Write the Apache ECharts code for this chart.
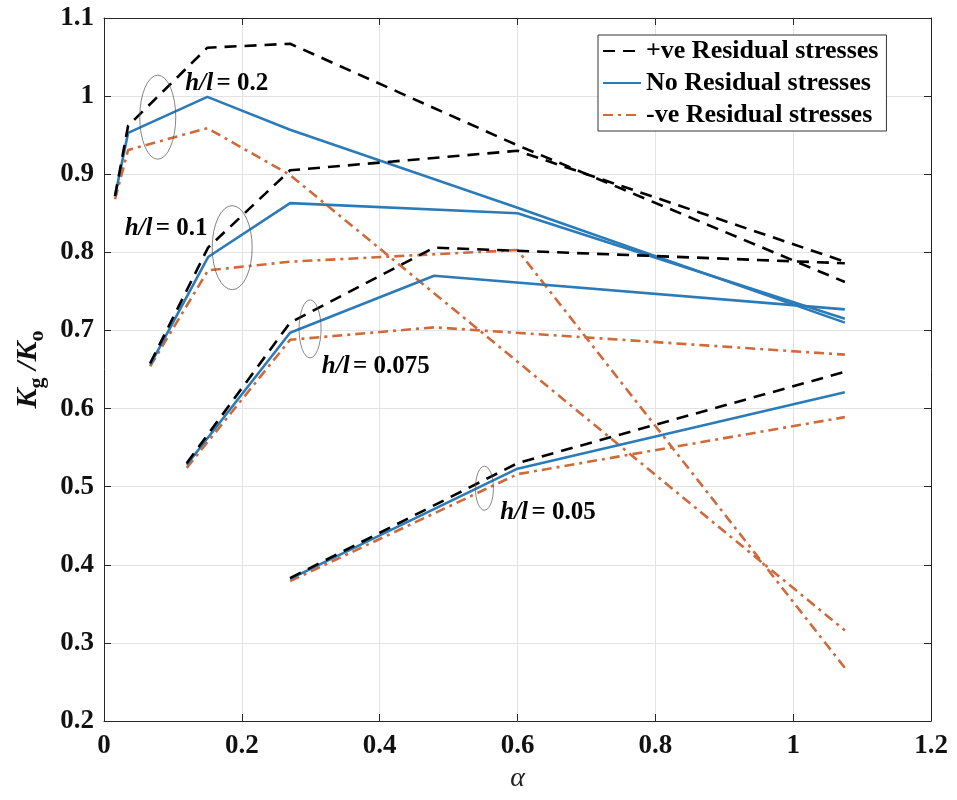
<!DOCTYPE html>
<html>
<head>
<meta charset="utf-8">
<script src="https://cdn.jsdelivr.net/npm/echarts@6/dist/echarts.min.js"></script>
<style>html,body{margin:0;padding:0;background:#fff}#c{width:957px;height:800px}</style>
</head>
<body>
<div id="c"></div>
<script>
// ---- data (alpha, Kg/Ko) ----
const seriesNames = ['+ve Residual stresses', 'No Residual stresses', '-ve Residual stresses'];
const xTickLabels = ['0', '0.2', '0.4', '0.6', '0.8', '1', '1.2'];
const yTickLabels = ['0.2', '0.3', '0.4', '0.5', '0.6', '0.7', '0.8', '0.9', '1', '1.1'];

// h/l = 0.2
const pos_02 = [[0.016, 0.872], [0.035, 0.962], [0.15, 1.062], [0.27, 1.067], [0.6, 0.937], [1.075, 0.762]];
const none_02 = [[0.016, 0.872], [0.035, 0.953], [0.15, 0.999], [0.27, 0.957], [0.6, 0.857], [1.075, 0.710]];
const neg_02 = [[0.016, 0.868], [0.035, 0.931], [0.15, 0.959], [0.27, 0.899], [0.6, 0.660], [1.075, 0.316]];
// h/l = 0.1
const pos_01 = [[0.067, 0.658], [0.151, 0.806], [0.27, 0.905], [0.6, 0.930], [1.075, 0.788]];
const none_01 = [[0.067, 0.656], [0.151, 0.794], [0.27, 0.863], [0.6, 0.850], [1.075, 0.715]];
const neg_01 = [[0.067, 0.654], [0.151, 0.777], [0.27, 0.788], [0.6, 0.803], [1.075, 0.268]];
// h/l = 0.075
const pos_0075 = [[0.12, 0.530], [0.27, 0.710], [0.479, 0.806], [1.075, 0.786]];
const none_0075 = [[0.12, 0.528], [0.27, 0.697], [0.479, 0.770], [1.075, 0.727]];
const neg_0075 = [[0.12, 0.524], [0.27, 0.688], [0.479, 0.704], [1.075, 0.669]];
// h/l = 0.05
const pos_005 = [[0.27, 0.383], [0.6, 0.530], [1.075, 0.647]];
const none_005 = [[0.27, 0.382], [0.6, 0.523], [1.075, 0.621]];
const neg_005 = [[0.27, 0.379], [0.6, 0.516], [1.075, 0.589]];

// annotations: label text, label anchor (data), ellipse centre (data), ellipse radii (px)
const annLabels = ['0.2', '0.1', '0.075', '0.05'];
const annTextPos = [[0.118, 1.016], [0.030, 0.831], [0.316, 0.654], [0.575, 0.467]];
const annEllipse = [[0.078, 0.973], [0.186, 0.806], [0.299, 0.702], [0.552, 0.498]];
const annRadii = [[18, 42], [20, 42], [11, 29], [9, 22]];

const FONT = 'Liberation Serif';
const styles = [
  { color: '#000000', type: [12, 8] },
  { color: '#2B7BB9', type: 'solid' },
  { color: '#D06A3A', type: [10, 5, 3, 5] }
];
const groups = [
  [pos_02, none_02, neg_02],
  [pos_01, none_01, neg_01],
  [pos_0075, none_0075, neg_0075],
  [pos_005, none_005, neg_005]
];

const series = [];
groups.forEach(g => {
  g.forEach((d, k) => {
    series.push({
      name: seriesNames[k],
      type: 'line',
      data: d,
      symbol: 'none',
      showSymbol: false,
      smooth: false,
      silent: true,
      z: 5 - k,
      lineStyle: { color: styles[k].color, type: styles[k].type, width: 2.6 },
      itemStyle: { color: styles[k].color }
    });
  });
});

const axisCommon = {
  type: 'value',
  axisLine: { show: true, onZero: false, lineStyle: { color: '#262626', width: 1 } },
  axisTick: { show: true, inside: true, length: 7, lineStyle: { color: '#262626' } }
};

const chart = echarts.init(document.getElementById('c'), null, { renderer: 'canvas' });
chart.setOption({
  animation: false,
  backgroundColor: '#fff',
  grid: { left: 104, right: 26, top: 18, bottom: 79, containLabel: false, outerBoundsMode: 'none' },
  legend: {
    data: seriesNames,
    orient: 'vertical',
    left: 598,
    top: 35,
    itemWidth: 38,
    itemHeight: 14,
    itemGap: 6,
    padding: [3, 8, 3, 4],
    borderColor: '#333',
    borderWidth: 1,
    backgroundColor: '#fff',
    itemStyle: { opacity: 0 },
    textStyle: { fontFamily: FONT, fontWeight: 'bold', fontSize: 26, color: '#000' },
    selectedMode: false
  },
  xAxis: [
    Object.assign({}, axisCommon, {
      min: 0, max: 1.2, interval: 0.2, position: 'bottom',
      name: 'α', nameLocation: 'middle', nameGap: 42,
      nameTextStyle: { fontFamily: FONT, fontStyle: 'italic', fontSize: 28, color: '#222' },
      axisLabel: {
        margin: 12, fontFamily: FONT, fontWeight: 'bold', fontSize: 27, color: '#111',
        formatter: v => xTickLabels[Math.round(v / 0.2)]
      },
      splitLine: { show: true, lineStyle: { color: '#e3e3e3', width: 1 } }
    }),
    Object.assign({}, axisCommon, {
      min: 0, max: 1.2, interval: 0.2, position: 'top',
      axisLabel: { show: false }, splitLine: { show: false }
    })
  ],
  yAxis: [
    Object.assign({}, axisCommon, {
      min: 0.2, max: 1.1, interval: 0.1, position: 'left',
      name: '{k|K}{s|g}{k| /K}{s|o}', nameLocation: 'middle', nameGap: 56, nameRotate: 90,
      nameTextStyle: {
        fontFamily: FONT, color: '#111',
        rich: {
          k: { fontFamily: FONT, fontStyle: 'italic', fontWeight: 'bold', fontSize: 30, lineHeight: 40, verticalAlign: 'middle' },
          s: { fontFamily: FONT, fontWeight: 'bold', fontSize: 22, lineHeight: 40, verticalAlign: 'bottom' }
        }
      },
      axisLabel: {
        margin: 10, fontFamily: FONT, fontWeight: 'bold', fontSize: 27, color: '#111',
        formatter: v => yTickLabels[Math.round((v - 0.2) / 0.1)]
      },
      splitLine: { show: true, lineStyle: { color: '#e3e3e3', width: 1 } }
    }),
    Object.assign({}, axisCommon, {
      min: 0.2, max: 1.1, interval: 0.1, position: 'right',
      axisLabel: { show: false }, splitLine: { show: false }
    })
  ],
  series: series
});

// annotations placed through the axes' own scales
const graphics = [];
annLabels.forEach((t, i) => {
  const tp = chart.convertToPixel({ xAxisIndex: 0, yAxisIndex: 0 }, annTextPos[i]);
  const ep = chart.convertToPixel({ xAxisIndex: 0, yAxisIndex: 0 }, annEllipse[i]);
  const r = annRadii[i];
  graphics.push({
    type: 'circle', x: ep[0], y: ep[1], scaleX: r[0] / r[1], scaleY: 1,
    shape: { cx: 0, cy: 0, r: r[1] },
    style: { fill: 'none', stroke: '#555', lineWidth: 1, strokeNoScale: true },
    z: 50, silent: true
  });
  graphics.push({
    type: 'text', x: tp[0], y: tp[1], z: 60, silent: true,
    style: {
      text: '{i|h/l} {n|= ' + t + '}',
      verticalAlign: 'middle', align: 'left',
      rich: {
        i: { fontFamily: FONT, fontStyle: 'italic', fontWeight: 'bold', fontSize: 25, fill: '#000' },
        n: { fontFamily: FONT, fontWeight: 'bold', fontSize: 25, fill: '#000' }
      }
    }
  });
});
chart.setOption({ graphic: graphics });
</script>
</body>
</html>
